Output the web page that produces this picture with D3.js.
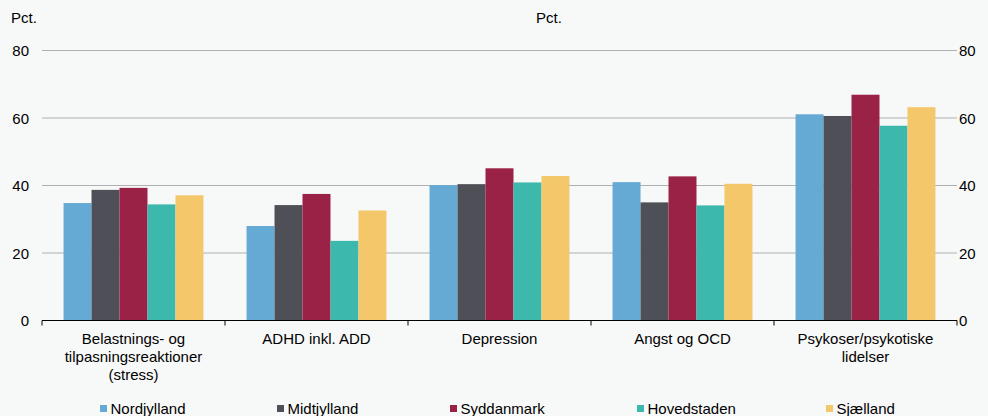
<!DOCTYPE html>
<html><head><meta charset="utf-8">
<script src="https://cdn.jsdelivr.net/npm/d3@7"></script>
<style>
html,body{margin:0;padding:0;background:#f7f8f8;}
svg{display:block;font-family:"Liberation Sans",Arial,sans-serif;}
</style></head>
<body><svg id="c" width="988" height="416"></svg>
<script>
const categories = [["Belastnings- og","tilpasningsreaktioner","(stress)"],["ADHD inkl. ADD"],["Depression"],["Angst og OCD"],["Psykoser/psykotiske","lidelser"]];
const seriesNames = ["Nordjylland","Midtjylland","Syddanmark","Hovedstaden","Sjælland"];
const nordjylland = [34.8, 28.0, 40.1, 41.0, 61.1];
const midtjylland = [38.7, 34.2, 40.4, 35.0, 60.6];
const syddanmark = [39.3, 37.5, 45.1, 42.7, 66.9];
const hovedstaden = [34.4, 23.6, 40.9, 34.1, 57.7];
const sjaelland = [37.1, 32.6, 42.8, 40.5, 63.2];
const yTicks = [0, 20, 40, 60, 80];
const colors = ["#65aad4","#4f5057","#9a2247","#3db8ad","#f4c86a"];
const seriesValues = [nordjylland, midtjylland, syddanmark, hovedstaden, sjaelland];

const svg = d3.select("#c");
const FS = 15;
const L = 42, R = 957, T = 50.5, B = 320.5;
const x0 = d3.scaleBand().domain(d3.range(categories.length)).range([L, R]).paddingInner(0).paddingOuter(0);
const x1 = d3.scaleBand().domain(d3.range(seriesNames.length)).range([0, x0.bandwidth()]).paddingOuter(0.77).paddingInner(0);
const y = d3.scaleLinear().domain([0, 80]).range([B, T]);

// grid
svg.append("g").selectAll("line").data(yTicks.filter(d => d > 0)).join("line")
  .attr("x1", L).attr("x2", R).attr("y1", d => y(d)).attr("y2", d => y(d))
  .attr("stroke", "#b0b0b0").attr("stroke-width", 1);

// bars
const g = svg.append("g");
categories.forEach((c, i) => {
  seriesValues.forEach((vals, s) => {
    g.append("rect")
      .attr("x", x0(i) + x1(s)).attr("width", x1.bandwidth())
      .attr("y", y(vals[i])).attr("height", B - y(vals[i]))
      .attr("fill", colors[s]);
  });
});

// baseline + ticks
svg.append("line").attr("x1", L).attr("x2", R).attr("y1", B).attr("y2", B).attr("stroke", "#000").attr("stroke-width", 1.2);
svg.append("g").selectAll("line").data(d3.range(categories.length + 1)).join("line")
  .attr("x1", d => L + d * x0.step()).attr("x2", d => L + d * x0.step())
  .attr("y1", B).attr("y2", B + 5).attr("stroke", "#000").attr("stroke-width", 1);

// y labels
svg.append("g").selectAll("text").data(yTicks).join("text")
  .attr("x", 29).attr("y", d => y(d) + 5.5).attr("text-anchor", "end")
  .attr("font-size", FS).attr("fill", "#000").text(d => d);
svg.append("g").selectAll("text").data(yTicks).join("text")
  .attr("x", 959).attr("y", d => y(d) + 5.5).attr("text-anchor", "start")
  .attr("font-size", FS).attr("fill", "#000").text(d => d);
svg.append("text").attr("x", 11).attr("y", 23).attr("font-size", FS).text("Pct.");
svg.append("text").attr("x", 536).attr("y", 23).attr("font-size", FS).text("Pct.");

// category labels
categories.forEach((lines, i) => {
  const t = svg.append("text").attr("text-anchor", "middle").attr("font-size", FS);
  lines.forEach((ln, j) => {
    t.append("tspan").attr("x", x0(i) + x0.bandwidth() / 2).attr("y", 344 + j * 18).text(ln);
  });
});

// legend
const legX = [100, 277, 450, 637, 826];
const lg = svg.append("g");
seriesNames.forEach((n, s) => {
  lg.append("rect").attr("x", legX[s]).attr("y", 405).attr("width", 7).attr("height", 7).attr("fill", colors[s]);
  lg.append("text").attr("x", legX[s] + 10.5).attr("y", 413.5).attr("font-size", FS).text(n);
});
</script></body></html>
